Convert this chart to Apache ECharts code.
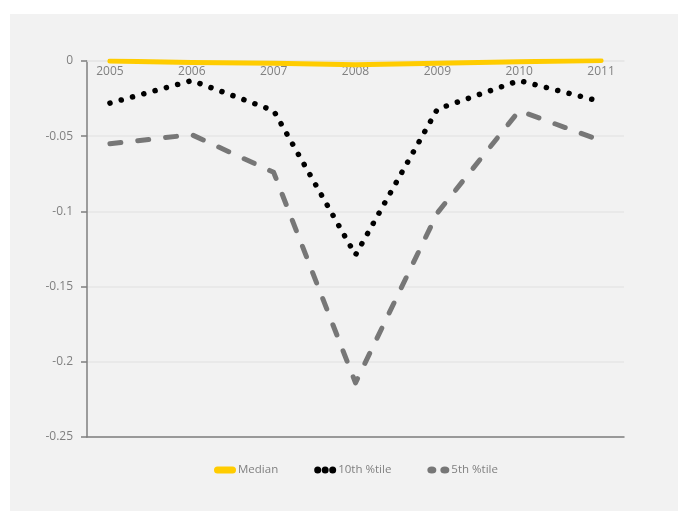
<!DOCTYPE html>
<html>
<head>
<meta charset="utf-8">
<script src="https://cdn.jsdelivr.net/npm/echarts@6/dist/echarts.min.js"></script>
<style>
  html, body { margin: 0; padding: 0; background: #ffffff; }
  #chart { width: 678px; height: 511px; }
</style>
</head>
<body>
<div id="chart"></div>
<script>
// Years along the horizontal axis
const years = [2005, 2006, 2007, 2008, 2009, 2010, 2011];

// Annual change by percentile
const median = [0, -0.001, -0.0015, -0.0025, -0.0015, -0.0005, 0.0003];
const p10 = [-0.028, -0.013, -0.033, -0.129, -0.032, -0.013, -0.027];
const p5 = [-0.055, -0.049, -0.074, -0.214, -0.101, -0.033, -0.053];

// Vertical axis ticks
const yTicks = [0, -0.05, -0.1, -0.15, -0.2, -0.25];

const pair = (vals) => years.map((y, i) => [y, vals[i]]);

const grey = '#808080';
const font = 'Open Sans, sans-serif';
const chart = echarts.init(document.getElementById('chart'), null, { renderer: 'canvas' });

chart.setOption({
  backgroundColor: '#ffffff',
  animation: false,
  graphic: [{
    type: 'rect',
    z: -10,
    silent: true,
    shape: { x: 10, y: 14, width: 668, height: 497 },
    style: { fill: '#f2f2f2' }
  }],
  grid: { left: 87, right: 54, top: 61, bottom: 74, containLabel: false },
  legend: {
    left: 209,
    top: 459,
    itemGap: 36,
    itemWidth: 22,
    itemHeight: 7,
    textStyle: { color: grey, fontSize: 11.5, fontFamily: font, padding: [0, 0, 0, -3] },
    data: [
      { name: 'Median', icon: 'path://M3.5,0 L18.5,0 A3.5,3.5 0 0 1 18.5,7 L3.5,7 A3.5,3.5 0 0 1 3.5,0 Z', itemStyle: { color: '#ffcc00' } },
      { name: '10th %tile', icon: 'path://M3.5,0 A3.5,3.5 0 1 1 3.5,7 A3.5,3.5 0 1 1 3.5,0 Z M11,0 A3.5,3.5 0 1 1 11,7 A3.5,3.5 0 1 1 11,0 Z M18.5,0 A3.5,3.5 0 1 1 18.5,7 A3.5,3.5 0 1 1 18.5,0 Z', itemStyle: { color: '#000000' } },
      { name: '5th %tile', icon: 'path://M4.5,0 A4.5,3.5 0 1 1 4.5,7 A4.5,3.5 0 1 1 4.5,0 Z M17.5,0 A4.5,3.5 0 1 1 17.5,7 A4.5,3.5 0 1 1 17.5,0 Z', itemStyle: { color: '#777777' } }
    ]
  },
  xAxis: [{
    // year labels hang just below the zero line at the top of the plot
    type: 'value',
    position: 'top',
    min: 2004.72,
    max: 2011.28,
    axisLine: { show: true, onZero: false, lineStyle: { color: '#e6e6e6', width: 1.5 } },
    axisTick: { show: false },
    splitLine: { show: false },
    axisLabel: {
      customValues: years,
      inside: true,
      color: grey,
      fontSize: 12,
      fontFamily: font,
      margin: 5,
      formatter: (v) => String(v)
    }
  }, {
    type: 'value',
    position: 'bottom',
    min: 2004.72,
    max: 2011.28,
    axisLine: { show: true, onZero: false, lineStyle: { color: '#7f7f7f', width: 1.5 } },
    axisTick: { show: false },
    axisLabel: { show: false },
    splitLine: { show: false }
  }],
  yAxis: {
    type: 'value',
    min: -0.25,
    max: 0,
    interval: 0.05,
    axisLine: { show: true, onZero: false, lineStyle: { color: '#7f7f7f', width: 1.5 } },
    axisTick: { show: true, length: 6, lineStyle: { color: '#7f7f7f', width: 1.5 } },
    axisLabel: {
      customValues: yTicks,
      color: grey,
      fontSize: 12,
      fontFamily: font,
      margin: 14,
      formatter: (v) => String(Math.round(v * 100) / 100)
    },
    splitLine: { show: true, lineStyle: { color: '#e6e6e6', width: 1.5 } }
  },
  series: [
    {
      name: 'Median',
      type: 'line',
      data: pair(median),
      symbol: 'none',
      z: 5,
      lineStyle: { color: '#ffcc00', width: 5, cap: 'round', join: 'round' },
      itemStyle: { color: '#ffcc00' }
    },
    {
      name: '10th %tile',
      type: 'line',
      data: pair(p10),
      symbol: 'none',
      z: 4,
      lineStyle: { color: '#000000', width: 5.5, type: [0.1, 11.6], cap: 'round', join: 'round' },
      itemStyle: { color: '#000000' }
    },
    {
      name: '5th %tile',
      type: 'line',
      data: pair(p5),
      symbol: 'none',
      z: 3,
      lineStyle: { color: '#777777', width: 5, type: [11, 17], cap: 'round', join: 'round' },
      itemStyle: { color: '#777777' }
    }
  ]
});
</script>
</body>
</html>
